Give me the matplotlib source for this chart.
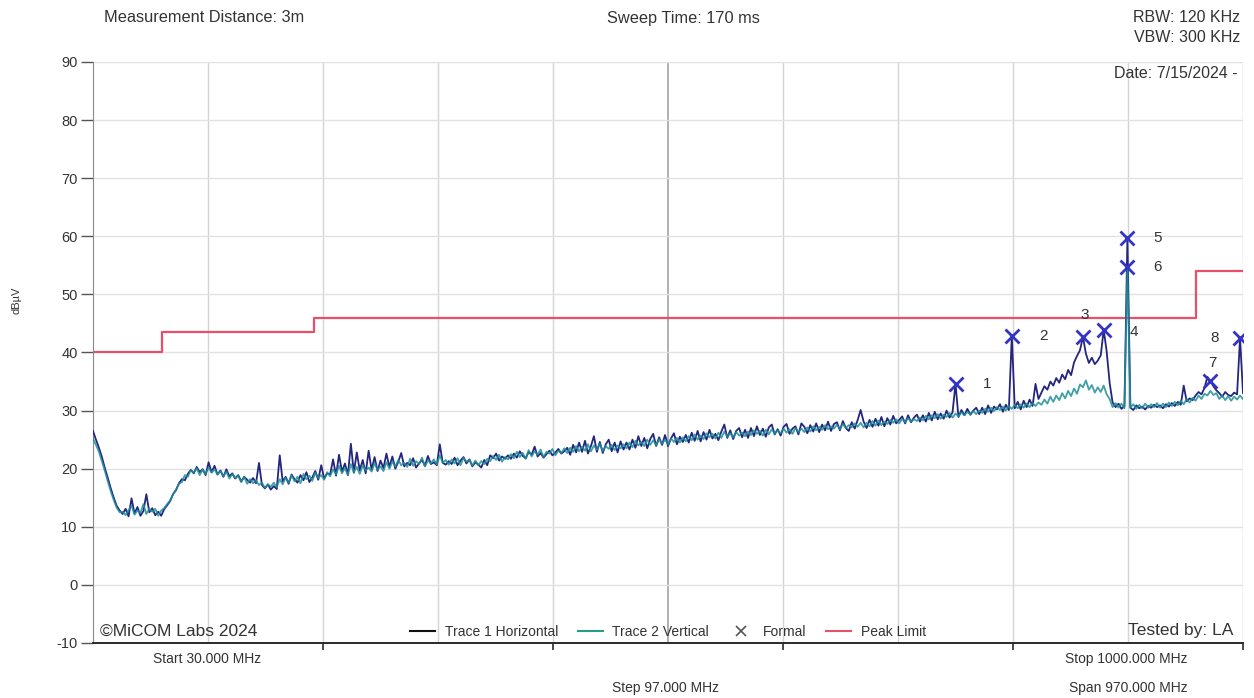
import numpy as np
import matplotlib
matplotlib.use("Agg")
import matplotlib.pyplot as plt

# ---------------- data ----------------
start_mhz = 30.0
stop_mhz = 1000.0
step_mhz = 97.0
sample_mhz = 2.5

trace1_horizontal = [
    26.5, 25.0, 23.6, 22.0, 20.1, 18.4, 16.6, 15.0, 13.6, 12.8, 12.2, 13.1, 11.8, 14.9, 12.3, 13.4, 11.9, 12.7, 15.6, 12.5,
    13.2, 12.0, 12.6, 11.9, 13.0, 13.7, 14.4, 15.6, 16.3, 17.5, 18.2, 18.0, 19.1, 19.8, 19.2, 20.3, 19.4, 19.9, 18.9, 21.1,
    19.4, 20.5, 19.0, 19.7, 18.6, 19.9, 18.7, 19.2, 18.3, 18.9, 17.8, 18.6, 18.1, 17.6, 18.4, 17.5, 21.0, 17.2, 16.6, 17.3,
    16.4, 17.0, 16.5, 22.3, 17.8, 18.6, 17.4, 19.0, 18.2, 17.6, 18.9, 18.0, 19.4, 17.7, 18.5, 19.6, 18.1, 20.6, 18.3, 19.2,
    19.0, 21.6, 18.8, 22.4, 19.5, 20.9, 18.9, 24.3, 19.3, 22.8, 19.7, 21.5, 19.2, 23.1, 19.8, 22.0, 19.6, 21.4, 20.1, 22.6,
    20.3, 22.1, 20.0, 21.2, 22.7, 20.4, 21.0, 20.6, 21.8, 20.2, 20.9, 21.5, 20.5, 22.2, 20.8, 21.1, 20.6, 24.2, 21.0, 20.7,
    21.3, 20.8, 21.9, 20.6, 21.4, 22.0, 20.9, 21.6, 20.4, 21.1, 20.7, 20.2, 21.5, 20.6, 22.3, 21.8, 22.6, 21.4, 22.1, 21.7,
    22.3, 21.7, 22.6, 21.9, 23.0, 22.2, 21.8, 22.9, 22.4, 23.8, 22.1, 22.7, 21.9, 22.5, 23.1, 22.3, 22.8, 23.4, 22.6, 23.0,
    23.6, 22.4, 24.1, 22.8, 24.5, 22.9, 24.8, 22.6, 23.9, 25.6, 22.9, 24.6, 22.7, 24.2, 25.0, 23.0, 24.5, 22.8, 24.7, 23.3,
    24.5, 23.3, 25.0, 23.6, 25.6, 23.9, 25.3, 23.5, 25.1, 26.0, 23.9, 25.4, 24.1, 25.8, 23.9, 25.2, 26.1, 24.2, 25.5, 24.6,
    25.8, 24.5, 26.2, 24.8, 26.5, 24.7, 26.3, 25.0, 26.7, 25.2, 26.0, 24.9, 26.4, 27.6, 25.3, 26.6, 25.1, 26.5, 27.0, 25.4,
    26.7, 25.3, 27.0, 25.6, 27.3, 25.8, 26.9, 25.5, 27.1, 27.6, 25.9, 26.8, 25.7, 27.2, 27.7, 26.0, 26.9, 27.3, 25.9, 27.8,
    27.2, 26.1, 27.5, 26.4, 27.8, 26.3, 27.6, 26.6, 28.1, 26.5, 27.7, 28.0, 26.6, 28.2, 27.0, 26.5, 28.0, 26.9, 28.4, 30.1,
    28.1, 27.0, 28.4, 27.2, 28.6, 27.4, 28.9, 27.3, 28.7, 27.6, 29.1, 27.8, 28.4, 29.0, 27.8, 29.2, 28.0, 28.8, 29.3, 28.1,
    29.2, 28.1, 29.6, 28.3, 29.8, 28.5, 29.5, 28.6, 30.0, 28.8, 29.7, 34.6, 28.9, 30.1, 29.2, 30.3, 29.3, 30.0, 30.5, 29.4,
    30.5, 29.4, 30.9, 29.6, 30.7, 30.2, 31.1, 29.8, 31.0, 30.1, 42.9, 30.4, 31.5, 30.2, 31.7, 30.6, 31.9, 30.8, 34.6, 32.0,
    33.1, 34.2, 33.6, 35.0, 34.3, 35.6, 34.8, 36.2, 35.4, 37.0, 36.1, 38.3, 39.4, 40.4, 42.7, 39.8, 38.2, 39.1, 38.0, 38.6,
    39.5, 43.9, 40.2, 34.8, 31.4, 30.6, 31.2, 30.3, 30.8, 59.7, 30.5, 30.1, 30.9, 30.4, 30.7, 30.2, 30.8, 30.5, 31.0, 30.6,
    30.9, 30.4, 31.1, 30.7, 31.3, 30.8, 31.5, 31.0, 34.3, 31.6, 32.1, 31.8, 32.6, 33.2, 32.8, 33.9, 35.8, 35.1, 34.2, 33.5,
    33.0, 32.4, 33.2, 32.7, 32.5, 33.1, 32.8, 42.5, 33.0,
]

trace2_vertical = [
    25.2, 24.1, 22.9, 21.3, 19.6, 17.8, 16.1, 14.6, 13.3, 12.5, 12.6, 12.0, 12.9, 13.6, 12.1, 12.8, 12.4, 13.9, 12.2, 13.1,
    12.6, 13.1, 11.9, 12.8, 13.2, 13.9, 14.5, 15.6, 16.4, 17.4, 17.7, 18.9, 18.6, 19.8, 19.3, 20.1, 18.9, 19.9, 19.1, 20.2,
    19.3, 19.9, 19.0, 19.6, 18.7, 19.5, 18.3, 19.1, 18.4, 18.8, 17.7, 18.6, 17.4, 18.2, 17.5, 18.0, 17.2, 17.6, 16.7, 17.3,
    16.9, 17.6, 16.8, 18.2, 17.3, 18.5, 17.6, 18.9, 17.8, 18.6, 17.5, 19.1, 18.2, 18.8, 17.9, 19.3, 18.4, 18.9, 18.1, 19.4,
    18.7, 19.9, 19.0, 20.5, 19.2, 20.1, 18.9, 20.8, 19.4, 20.3, 19.1, 20.6, 19.7, 20.2, 19.5, 21.0, 19.8, 20.4, 19.6, 21.1,
    20.0, 21.2, 20.4, 21.5, 20.6, 21.0, 20.3, 21.7, 20.5, 21.3, 20.8, 21.9, 20.4, 21.4, 20.9, 21.6, 20.7, 22.3, 21.0, 21.5,
    20.7, 21.6, 20.9, 21.8, 20.6, 21.9, 21.2, 21.5, 20.5, 21.4, 20.6, 21.3, 20.8, 21.7, 21.3, 22.2, 21.5, 22.4, 21.2, 22.0,
    21.6, 22.5, 21.8, 22.9, 22.0, 22.7, 21.7, 23.2, 22.1, 23.0, 22.4, 23.3, 22.0, 22.9, 22.6, 23.4, 22.3, 23.1, 22.7, 23.5,
    22.7, 23.6, 22.9, 23.9, 23.0, 23.8, 23.1, 24.2, 23.0, 24.0, 23.3, 24.3, 23.0, 23.9, 23.4, 24.1, 23.2, 24.0, 23.5, 24.2,
    23.5, 24.5, 23.7, 24.8, 24.0, 24.6, 23.9, 25.0, 24.1, 24.9, 24.0, 25.1, 24.3, 25.0, 24.2, 25.2, 24.6, 25.3, 24.5, 25.4,
    24.7, 25.6, 24.9, 25.9, 25.0, 25.7, 25.1, 26.1, 25.4, 26.0, 25.2, 26.2, 25.3, 26.4, 25.5, 26.1, 25.4, 26.3, 25.7, 26.2,
    25.6, 26.4, 25.8, 26.6, 26.0, 26.5, 25.7, 26.7, 25.9, 26.8, 26.0, 26.6, 26.1, 26.9, 26.2, 26.8, 26.0, 27.0, 26.3, 26.9,
    26.3, 27.1, 26.4, 27.3, 26.6, 27.2, 26.7, 27.5, 26.8, 27.3, 26.9, 27.6, 26.8, 27.7, 27.0, 27.5, 27.1, 27.8, 27.2, 27.9,
    27.1, 27.9, 27.3, 28.2, 27.4, 28.3, 27.5, 28.1, 27.7, 28.4, 27.9, 28.5, 27.8, 28.6, 28.0, 28.7, 28.1, 28.5, 28.2, 28.8,
    28.3, 29.1, 28.5, 29.2, 28.7, 29.4, 28.6, 29.3, 28.9, 29.6, 28.8, 29.5, 29.0, 29.7, 29.2, 29.8, 29.3, 29.9, 29.4, 30.0,
    29.6, 30.3, 29.8, 30.5, 29.9, 30.6, 30.1, 30.7, 30.0, 30.8, 30.3, 31.0, 30.4, 31.1, 30.5, 31.2, 30.6, 31.3, 30.8, 31.4,
    31.0, 31.9, 31.2, 32.4, 31.5, 32.6, 31.8, 33.0, 32.1, 33.4, 32.5, 33.8, 32.9, 34.5, 34.0, 35.2, 33.6, 34.4, 33.1, 34.0,
    33.2, 34.3, 32.8, 32.0, 30.6, 31.3, 30.5, 31.2, 30.4, 54.7, 30.5, 31.1, 30.3, 31.0, 30.4, 31.2, 30.5, 31.1, 30.6, 31.3,
    30.5, 31.2, 30.6, 31.4, 30.8, 31.5, 30.9, 31.7, 31.1, 32.0, 31.4, 32.2, 31.7, 32.6, 32.0, 32.9, 32.6, 33.4, 32.7, 33.0,
    32.0, 32.6, 31.8, 32.5, 31.7, 32.4, 31.9, 32.6, 32.0,
]

limit_freq = [30, 88, 216, 960, 1000]
limit_level = [40, 43.5, 46, 54, 54]

marker_ids = ["1", "2", "3", "4", "5", "6", "7", "8"]
marker_freq = [757.5, 805.0, 865.0, 882.5, 902.5, 902.5, 972.5, 997.5]
marker_level = [34.6, 42.9, 42.7, 43.9, 59.7, 54.7, 35.1, 42.5]

y_ticks = list(range(-10, 91, 10))

# ---------------- style / layout ----------------
label_offsets_px = [(32, 0), (32, 0), (2, 22), (30, -2), (30, 0), (30, 0), (2, 18), (-25, 0)]

W, H = 1254, 698
plt.rcParams["font.family"] = ["Liberation Sans", "DejaVu Sans"]
plt.rcParams["axes.unicode_minus"] = False
fig = plt.figure(figsize=(W / 100, H / 100), dpi=100)
ax = fig.add_axes([93 / W, 55 / H, 1150 / W, 581 / H])

freq = start_mhz + sample_mhz * np.arange(len(trace1_horizontal))

ax.set_xlim(start_mhz, stop_mhz)
ax.set_ylim(-10, 90)

# grid
for k in range(1, 11):
    xv = start_mhz + k * step_mhz
    ax.axvline(xv, color="#9a9a9a" if k == 5 else "#d4d4d4", lw=1.1 if k == 5 else 1.0, zorder=0)
for yv in y_ticks[1:]:
    ax.axhline(yv, color="#e2e2e2", lw=1.0, zorder=0)

ax.plot(freq, trace1_horizontal, color="#24267e", lw=1.3, zorder=3)
ax.plot(freq, trace2_vertical, color="#1f8e98", lw=1.3, alpha=0.85, zorder=4)
ax.plot(marker_freq, marker_level, ls="none", marker="x", color="#3434c4", ms=10, mew=2, zorder=6)
ax.step(limit_freq, limit_level, where="post", color="#e8506a", lw=1.6, zorder=2)

for mid, mf, mv, (dx, dy) in zip(marker_ids, marker_freq, marker_level, label_offsets_px):
    ax.annotate(mid, (mf, mv), xytext=(dx, dy), textcoords="offset pixels",
                ha="center", va="center", fontsize=11, color="#333333", zorder=7)

# legend
h_leg = [
    plt.Line2D([], [], color="#111111", lw=1.5),
    plt.Line2D([], [], color="#2a9a8a", lw=1.5),
    plt.Line2D([], [], ls="none", marker="x", color="#555555", ms=7, mew=1.2),
    plt.Line2D([], [], color="#e8506a", lw=1.5),
]
leg = ax.legend(h_leg, ["Trace 1 Horizontal", "Trace 2 Vertical", "Formal", "Peak Limit"],
                loc="center", bbox_to_anchor=(0.5, 0.019), ncol=4, frameon=False,
                fontsize=10, handlelength=1.8, handletextpad=0.7, columnspacing=1.4,
                borderaxespad=0, borderpad=0)
for t in leg.get_texts():
    t.set_color("#333333")

# axes styling
for s in ["top", "right"]:
    ax.spines[s].set_visible(False)
ax.spines["left"].set_color("#8a8a8a")
ax.spines["bottom"].set_color("#2a2a2a")
ax.spines["bottom"].set_linewidth(1.4)
ax.set_yticks(y_ticks)
ax.tick_params(axis="y", direction="out", length=9, width=1, color="#555555",
               labelsize=10.5, labelcolor="#333333", pad=2)
ax.set_xticks([start_mhz + k * 2 * step_mhz for k in range(1, 6)])
ax.set_xticklabels([])
ax.tick_params(axis="x", direction="out", length=5, width=1.2, color="#2a2a2a")

def ftext(x, y, s, **kw):
    fig.text(x / W, 1 - y / H, s, color="#333333", va="center", **kw)

ftext(204, 18, "Measurement Distance: 3m", ha="center", fontsize=11.8)
ftext(683, 18, "Sweep Time: 170 ms", ha="center", fontsize=11.8)
ftext(1240, 18, "RBW: 120 KHz", ha="right", fontsize=11.5)
ftext(1240, 37, "VBW: 300 KHz", ha="right", fontsize=11.5)
ftext(1238, 73, "Date: 7/15/2024 -", ha="right", fontsize=11.5)
ftext(207, 659, "Start 30.000 MHz", ha="center", fontsize=10)
ftext(1126, 659, "Stop 1000.000 MHz", ha="center", fontsize=10)
ftext(666, 688, "Step 97.000 MHz", ha="center", fontsize=10)
ftext(1128, 688, "Span 970.000 MHz", ha="center", fontsize=10)
ftext(100, 631, "©MiCOM Labs 2024", ha="left", fontsize=12.5)
ftext(1233, 631, "Tested by: LA", ha="right", fontsize=12.5)
fig.text(17 / W, 1 - 300 / H, "dBµV", rotation=90, ha="center", va="center", fontsize=8, color="#333333")

fig.savefig("out.png", dpi=100, facecolor="white")
